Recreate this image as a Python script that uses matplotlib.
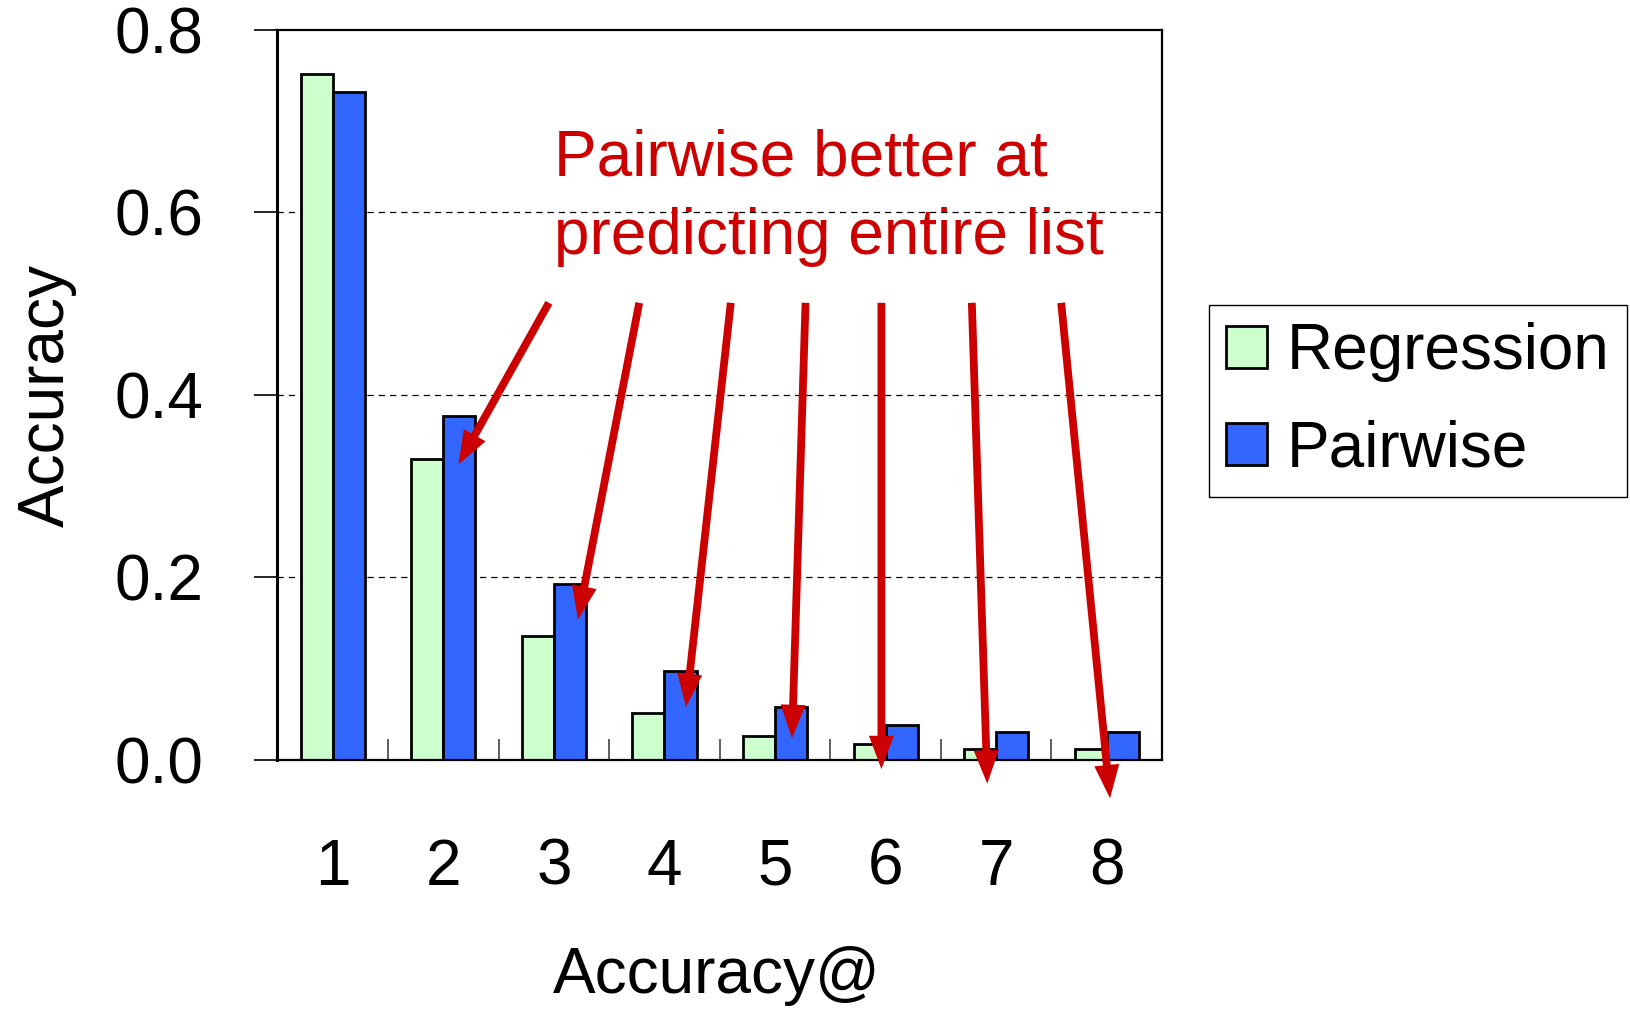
import matplotlib

matplotlib.use("Agg")
import matplotlib.pyplot as plt
import numpy as np

plt.rcParams["font.family"] = ["Liberation Sans", "DejaVu Sans"]

# accuracy@k for the two ranking approaches
ks = [1, 2, 3, 4, 5, 6, 7, 8]
regression = [0.752, 0.330, 0.136, 0.051, 0.026, 0.017, 0.012, 0.012]
pairwise = [0.732, 0.377, 0.193, 0.098, 0.058, 0.038, 0.031, 0.031]
series_names = ["Regression", "Pairwise"]
y_ticks = [0.0, 0.2, 0.4, 0.6, 0.8]

note = "Pairwise better at\npredicting entire list"
# callout arrows: (tail x, tail y) -> (head x, head y) in data units
arrow_tails = [(2.955, 0.501), (3.772, 0.501), (4.600, 0.501), (5.276, 0.501),
               (5.962, 0.501), (6.780, 0.501), (7.588, 0.501)]
arrow_heads = [(2.137, 0.324), (3.218, 0.154), (4.195, 0.058), (5.154, 0.024),
               (5.962, -0.010), (6.920, -0.026), (8.030, -0.042)]

GREEN = "#CCFFCC"
BLUE = "#3366FF"
RED = "#CC0000"
FS = 46

fig = plt.figure(figsize=(16.30, 10.09), dpi=100)
ax = fig.add_axes([0.1702, 0.2468, 0.5427, 0.7235])

x = np.array(ks, dtype=float)
w = 0.29
ax.bar(x - w / 2, regression, w, color=GREEN, edgecolor="black", lw=2,
       label=series_names[0], zorder=2)
ax.bar(x + w / 2, pairwise, w, color=BLUE, edgecolor="black", lw=2,
       label=series_names[1], zorder=2)

ax.set_xlim(0.5, 8.5)
ax.set_ylim(0, 0.8)
ax.set_yticks(y_ticks)
ax.set_yticklabels([f"{v:.1f}" for v in y_ticks])
ax.set_xticks(ks)
ax.set_xticklabels([str(k) for k in ks])
ax.set_xticks(np.arange(1.5, 8.5, 1.0), minor=True)

ax.tick_params(axis="y", direction="out", length=16.5, width=1.2, pad=37,
               labelsize=FS, right=False)
ax.tick_params(axis="x", which="major", length=0, pad=56, labelsize=FS)
ax.tick_params(axis="x", which="minor", direction="in", length=15, width=1.2,
               color="#444444")

for y in y_ticks[1:-1]:
    ax.axhline(y, color="black", lw=0.9, ls=(0, (5, 4)), zorder=1)

for side in ax.spines.values():
    side.set_linewidth(1.6)
ax.spines["left"].set_linewidth(2.2)

ax.text(3.0, 0.616, note, color=RED, fontsize=FS, ha="left", va="center",
        linespacing=1.38, zorder=4)

for (x0, y0), (x1, y1) in zip(arrow_tails, arrow_heads):
    ax.annotate("", xy=(x1, y1), xytext=(x0, y0), annotation_clip=False,
                arrowprops=dict(arrowstyle="simple,head_length=1.2,head_width=0.9,tail_width=0.28",
                                mutation_scale=20, fc=RED, ec="none", lw=0,
                                shrinkA=0, shrinkB=0),
                zorder=5)

fig.text(0.0287, 0.6085, "Accuracy", rotation=90, fontsize=FS, ha="center", va="center")
fig.text(0.440, 0.033, "Accuracy@", fontsize=FS, ha="center", va="center")

leg = fig.legend(loc="upper left", bbox_to_anchor=(0.7415, 0.6975), fontsize=FS,
                 frameon=True, fancybox=False, framealpha=1, edgecolor="black",
                 borderaxespad=0, handlelength=0.65, handleheight=0.65,
                 handletextpad=0.3, labelspacing=0.58, borderpad=0.27)
leg.get_frame().set_linewidth(1.0)

fig.savefig("out.png", dpi=100)
